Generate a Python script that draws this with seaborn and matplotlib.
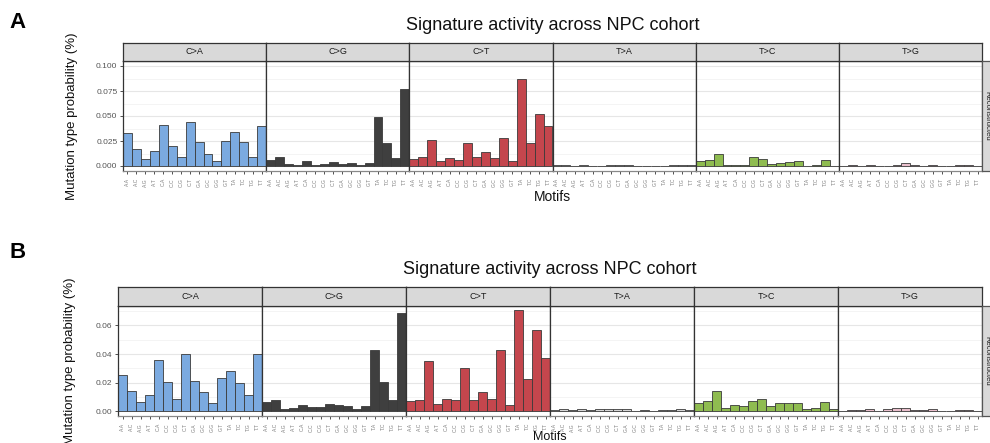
import matplotlib
matplotlib.use("Agg")
import matplotlib.pyplot as plt
import seaborn as sns
import pandas as pd
from matplotlib.patches import Rectangle

# ---------------- data ----------------
types = ["C>A", "C>G", "C>T", "T>A", "T>C", "T>G"]
contexts = ["A.A", "A.C", "A.G", "A.T", "C.A", "C.C", "C.G", "C.T",
            "G.A", "G.C", "G.G", "G.T", "T.A", "T.C", "T.G", "T.T"]

# Panel A
a_CA = [0.0327, 0.0167, 0.0067, 0.0147, 0.0407, 0.0203, 0.0087, 0.0440,
        0.0243, 0.0123, 0.0050, 0.0247, 0.0337, 0.0237, 0.0087, 0.0397]
a_CG = [0.0057, 0.0090, 0.0023, 0.0013, 0.0047, 0.0013, 0.0023, 0.0037,
        0.0023, 0.0030, 0.0010, 0.0030, 0.0490, 0.0227, 0.0080, 0.0767]
a_CT = [0.0067, 0.0093, 0.0260, 0.0050, 0.0080, 0.0063, 0.0230, 0.0090,
        0.0137, 0.0077, 0.0283, 0.0047, 0.0867, 0.0230, 0.0520, 0.0403]
a_TA = [0.0010, 0.0010, 0.0003, 0.0012, 0.0002, 0.0002, 0.0013, 0.0013,
        0.0013, 0.0003, 0.0003, 0.0001, 0.0003, 0.0010, 0.0010, 0.0012]
a_TC = [0.0050, 0.0063, 0.0117, 0.0013, 0.0010, 0.0010, 0.0090, 0.0067,
        0.0023, 0.0030, 0.0040, 0.0047, 0.0002, 0.0010, 0.0063, 0.0002]
a_TG = [0.0003, 0.0010, 0.0002, 0.0013, 0.0001, 0.0003, 0.0013, 0.0027,
        0.0013, 0.0003, 0.0013, 0.0002, 0.0002, 0.0010, 0.0010, 0.0001]

# Panel B
b_CA = [0.0254, 0.0139, 0.0068, 0.0115, 0.0358, 0.0205, 0.0089, 0.0402,
        0.0212, 0.0132, 0.0059, 0.0231, 0.0285, 0.0195, 0.0111, 0.0400]
b_CG = [0.0064, 0.0080, 0.0019, 0.0026, 0.0045, 0.0028, 0.0028, 0.0052,
        0.0045, 0.0038, 0.0014, 0.0038, 0.0430, 0.0207, 0.0082, 0.0690]
b_CT = [0.0073, 0.0082, 0.0350, 0.0052, 0.0085, 0.0082, 0.0300, 0.0082,
        0.0132, 0.0085, 0.0426, 0.0045, 0.0710, 0.0228, 0.0570, 0.0370]
b_TA = [0.0008, 0.0015, 0.0010, 0.0015, 0.0010, 0.0015, 0.0015, 0.0015,
        0.0015, 0.0003, 0.0008, 0.0003, 0.0008, 0.0008, 0.0015, 0.0010]
b_TC = [0.0059, 0.0075, 0.0139, 0.0026, 0.0047, 0.0035, 0.0075, 0.0085,
        0.0035, 0.0056, 0.0056, 0.0056, 0.0019, 0.0026, 0.0066, 0.0016]
b_TG = [0.0003, 0.0008, 0.0008, 0.0019, 0.0002, 0.0015, 0.0022, 0.0022,
        0.0008, 0.0008, 0.0015, 0.0002, 0.0002, 0.0008, 0.0008, 0.0002]

a_ticks = [0.0, 0.025, 0.05, 0.075, 0.1]
a_ticklabels = ["0.000", "0.025", "0.050", "0.075", "0.100"]
b_ticks = [0.0, 0.02, 0.04, 0.06]
b_ticklabels = ["0.00", "0.02", "0.04", "0.06"]

title = "Signature activity across NPC cohort"
ylabel = "Mutation type probability (%)"
xlabel = "Motifs"
side_label = "Reconstructed"

colors = ["#7BAAE0", "#3F3F3F", "#C4464D", "#D6D6D6", "#8FBC50", "#E9BFCC"]

# ---------------- figure ----------------
sns.set_theme(style="white")
plt.rcParams["font.family"] = ["Liberation Sans", "DejaVu Sans"]

W, H = 990, 443
fig = plt.figure(figsize=(W / 100, H / 100), dpi=100)
fig.patch.set_facecolor("white")


def rect(x0, y0, x1, y1):
    return [x0 / W, 1 - y1 / H, (x1 - x0) / W, (y1 - y0) / H]


def fx(x):
    return x / W


def fy(y):
    return 1 - y / H


def draw_panel(series, left, right, strip_top, top, bottom, ylim, ticks, ticklabels,
               title_y, letter, letter_y, ylab_x, motifs_y, motifs_size):
    fw = (right - left) / 6
    minor = [(ticks[i] + ticks[i + 1]) / 2 for i in range(len(ticks) - 1)]
    minor.append(ticks[-1] + (ticks[1] - ticks[0]) / 2)
    for i, t in enumerate(types):
        x0 = left + i * fw
        ax = fig.add_axes(rect(x0, top, x0 + fw, bottom))
        df = pd.DataFrame({"context": contexts, "value": series[i]})
        sns.barplot(data=df, x="context", y="value", color=colors[i], saturation=1,
                    width=1.0, edgecolor="#3A3A3A", linewidth=0.6, ax=ax)
        ax.set_xlim(-0.5, 15.5)
        ax.set_ylim(*ylim)
        ax.set_axisbelow(True)
        for m in minor:
            ax.axhline(m, color="#F3F3F3", lw=0.6, zorder=0)
        for m in ticks:
            ax.axhline(m, color="#E6E6E6", lw=0.8, zorder=0)
        ax.set_xlabel("")
        ax.set_ylabel("")
        ax.set_xticks(range(16))
        ax.set_xticklabels(contexts, rotation=90, fontsize=3.6, color="#808080")
        ax.tick_params(axis="x", bottom=True, length=2.5, width=0.6, color="#333333", pad=2.5)
        if i == 0:
            ax.set_yticks(ticks)
            ax.set_yticklabels(ticklabels, fontsize=6, color="#555555")
            ax.tick_params(axis="y", left=True, length=2.5, width=0.6, color="#333333", pad=1.5)
        else:
            ax.set_yticks(ticks)
            ax.set_yticklabels([])
            ax.tick_params(axis="y", left=False)
        for s in ["left", "right", "top"]:
            ax.spines[s].set_color("#333333")
            ax.spines[s].set_linewidth(0.9)
        ax.spines["bottom"].set_color("#888888")
        ax.spines["bottom"].set_linewidth(0.9)
        # strip
        sax = fig.add_axes(rect(x0, strip_top, x0 + fw, top))
        sax.set_facecolor("#D9D9D9")
        sax.set_xticks([])
        sax.set_yticks([])
        for s in sax.spines.values():
            s.set_color("#333333")
            s.set_linewidth(0.9)
        sax.text(0.5, 0.5, t, ha="center", va="center", fontsize=6.5,
                 color="#1A1A1A", transform=sax.transAxes)
    # right side strip
    fig.patches.append(Rectangle((fx(right), fy(bottom)), fx(right + 14) - fx(right),
                                 fy(top) - fy(bottom), transform=fig.transFigure,
                                 facecolor="#D9D9D9", edgecolor="#555555", lw=0.9))
    fig.text(fx(right + 4.5), fy((top + bottom) / 2), side_label, rotation=-90,
             ha="center", va="center", fontsize=5.5, color="#1A1A1A")
    fig.text(fx((left + right) / 2), fy(title_y), title, ha="center", va="center",
             fontsize=13, color="#111111")
    fig.text(fx(18), fy(letter_y), letter, ha="center", va="center",
             fontsize=16, fontweight="bold", color="black")
    fig.text(fx(ylab_x), fy((top + bottom) / 2), ylabel, rotation=90, ha="center",
             va="center", fontsize=9.5, color="#111111")
    fig.text(fx((left + right) / 2), fy(motifs_y), xlabel, ha="center", va="center",
             fontsize=motifs_size, color="#111111")


draw_panel([a_CA, a_CG, a_CT, a_TA, a_TC, a_TG], 123, 982, 43, 61, 171,
           (-0.005, 0.105), a_ticks, a_ticklabels, 25, "A", 23, 72, 197, 10)
draw_panel([b_CA, b_CG, b_CT, b_TA, b_TC, b_TG], 118, 982, 287, 306, 416,
           (-0.0033, 0.0736), b_ticks, b_ticklabels, 270, "B", 253, 70, 437, 9)

fig.savefig("out.png", dpi=100)
